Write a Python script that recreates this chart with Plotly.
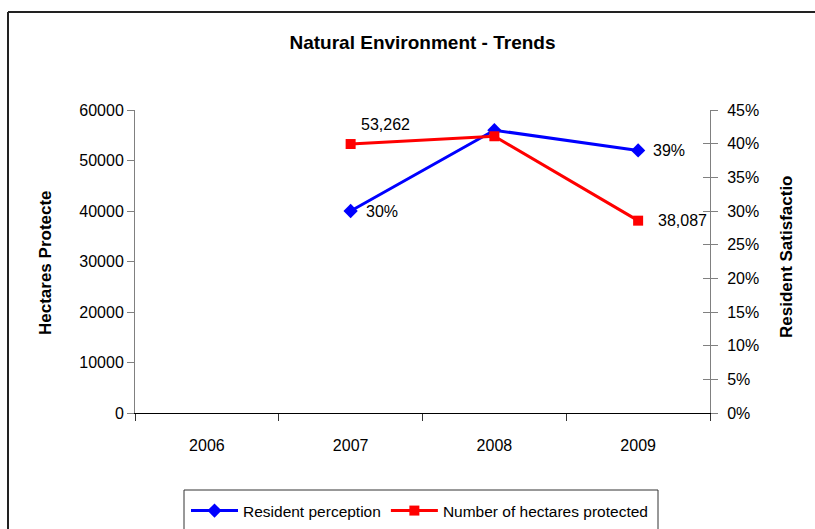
import plotly.graph_objects as go

# Survey years on the category axis
years = ["2006", "2007", "2008", "2009"]

# Share of residents satisfied with the natural environment (right axis)
perception = [None, 0.30, 0.42, 0.39]

# Hectares of land under protection (left axis)
hectares = [None, 53262, 54800, 38087]

# Years whose values are written next to the markers
labelled_years = ["2007", "2009"]

pct_ticks = [i / 100 for i in range(0, 46, 5)]
ha_ticks = list(range(0, 60001, 10000))

FONT = "Liberation Sans, Arial, sans-serif"

# Plot-area geometry in pixels, used to place paper-referenced decorations
W, H = 815, 529
L, R, T, B = 135, 710, 110, 413


def px(x):
    return (x - L) / (R - L)


def py(y):
    return (B - y) / (B - T)


fig = go.Figure()

fig.add_trace(go.Scatter(
    x=years, y=perception, name="Resident perception",
    mode="lines+markers", yaxis="y",
    line=dict(color="#0000FF", width=3),
    marker=dict(symbol="diamond", size=11, color="#0000FF"),
))

fig.add_trace(go.Scatter(
    x=years, y=hectares, name="Number of hectares protected",
    mode="lines+markers", yaxis="y2",
    line=dict(color="#FF0000", width=3),
    marker=dict(symbol="square", size=10, color="#FF0000"),
))

# placeholder so the crossing-tick axis is rendered
fig.add_trace(go.Scatter(x=[years[0]], y=[None], yaxis="y3",
                         showlegend=False, hoverinfo="skip"))

label_font = dict(size=16, family=FONT, color="black")
annotations = []
for i, (yr, p, h) in enumerate(zip(years, perception, hectares)):
    if yr not in labelled_years:
        continue
    annotations.append(dict(
        x=i, y=p, xref="x", yref="y", text=f"{p:.0%}",
        showarrow=False, xanchor="left", yanchor="middle", xshift=13,
        font=label_font,
    ))
    above = yr == "2007"
    annotations.append(dict(
        x=i, y=h, xref="x", yref="y2", text=f"{h:,}",
        showarrow=False, xanchor="left", yanchor="middle",
        xshift=8 if above else 18, yshift=20 if above else 0,
        font=label_font,
    ))

title_font = dict(size=17, family=FONT, color="black")
annotations += [
    dict(text="<b>Hectares Protecte</b>", xref="paper", yref="paper",
         x=px(45), y=py(263), textangle=-90, showarrow=False,
         xanchor="center", yanchor="middle", font=title_font),
    dict(text="<b>Resident Satisfactio</b>", xref="paper", yref="paper",
         x=px(786), y=py(257), textangle=-90, showarrow=False,
         xanchor="center", yanchor="middle", font=title_font),
]

shapes = [
    # outer chart frame (left and top edges)
    dict(type="line", xref="paper", yref="paper",
         x0=px(8), x1=px(8), y0=py(12), y1=py(540),
         line=dict(color="#222222", width=2)),
    dict(type="line", xref="paper", yref="paper",
         x0=px(8), x1=px(825), y0=py(12), y1=py(12),
         line=dict(color="#222222", width=2)),
    # legend box
    dict(type="rect", xref="paper", yref="paper",
         x0=px(184), x1=px(658), y0=py(490), y1=py(545),
         line=dict(color="#333333", width=1)),
]

axis_font = dict(size=16, family=FONT, color="black")

fig.update_layout(
    width=W, height=H,
    margin=dict(l=L, r=W - R, t=T, b=H - B, autoexpand=False),
    paper_bgcolor="white", plot_bgcolor="white",
    font=dict(family=FONT, color="black"),
    title=dict(text="<b>Natural Environment - Trends</b>",
               x=0.5, xref="paper", xanchor="center",
               y=1 - 42 / H, yref="container", yanchor="middle",
               font=dict(size=19, family=FONT, color="black")),
    xaxis=dict(type="category", categoryorder="array", categoryarray=years,
               range=[-0.5, 3.5], tickson="boundaries",
               ticks="outside", ticklen=7, tickcolor="#333333",
               showline=True, linecolor="black", linewidth=1,
               showgrid=False, zeroline=False, tickfont=axis_font,
               ticklabelstandoff=18),
    yaxis=dict(side="right", range=[0, 0.45], tickvals=pct_ticks,
               tickformat=".0%", ticks="outside", ticklen=7,
               tickcolor="#808080", showline=True, linecolor="#808080",
               linewidth=1, showgrid=False, zeroline=False,
               tickfont=axis_font, ticklabelstandoff=6),
    yaxis2=dict(side="left", overlaying="y", range=[0, 60000],
                tickvals=ha_ticks, tickformat="d", ticks="outside",
                ticklen=7, tickcolor="#808080", showline=True,
                linecolor="#808080", linewidth=1, showgrid=False,
                zeroline=False, tickfont=axis_font),
    yaxis3=dict(side="right", overlaying="y", anchor="x", range=[0, 0.45],
                tickvals=pct_ticks, ticks="inside", ticklen=7,
                tickcolor="#808080", showticklabels=False, showline=False,
                showgrid=False, zeroline=False),
    legend=dict(orientation="h", x=px(186), y=py(494), xanchor="left",
                yanchor="top", bgcolor="rgba(0,0,0,0)", borderwidth=0,
                itemwidth=47, traceorder="normal",
                font=dict(size=15.5, family=FONT, color="black")),
    annotations=annotations,
    shapes=shapes,
    showlegend=True,
)

fig.write_html("out.html")
